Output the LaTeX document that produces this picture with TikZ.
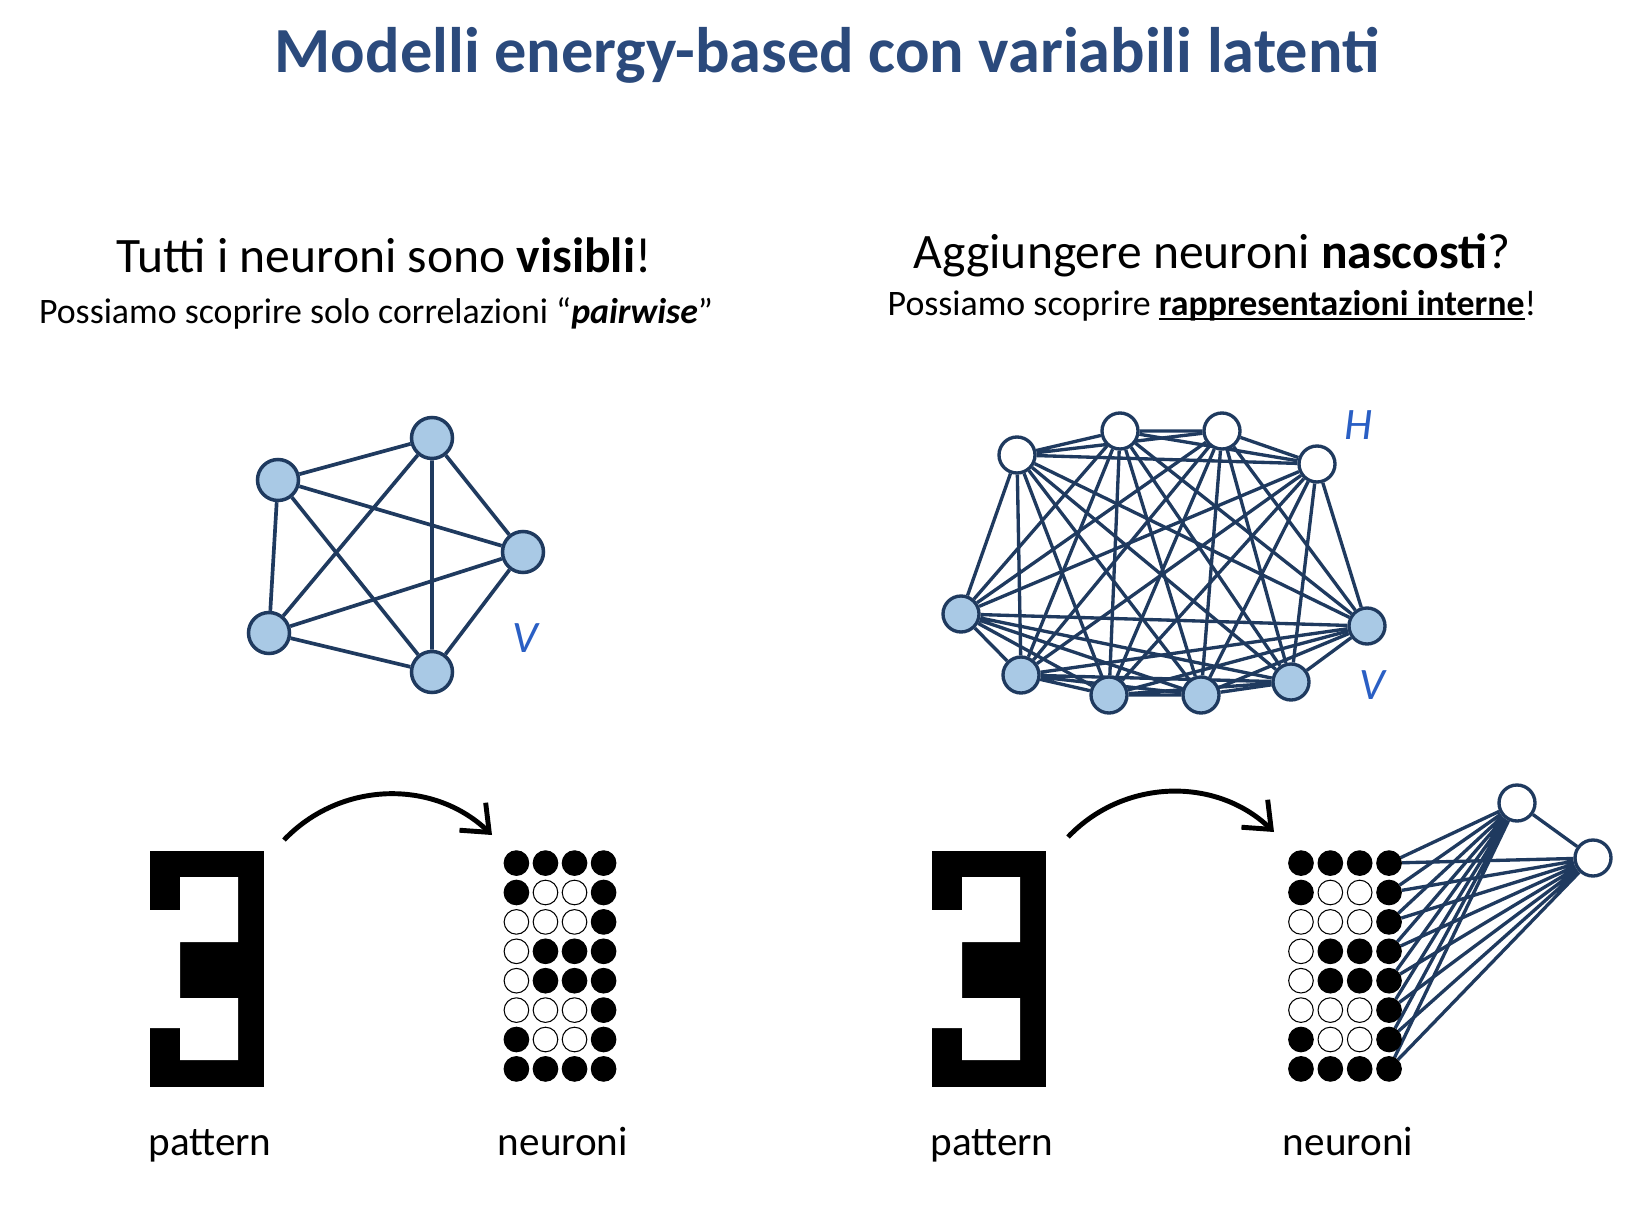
\documentclass[tikz,border=0pt]{standalone}
\usepackage{fontspec}
\setmainfont{Carlito}
\usetikzlibrary{matrix, arrows.meta, backgrounds}

\definecolor{titleblue}{HTML}{2B4A7C}
\definecolor{edgeblue}{HTML}{1F3A5F}
\definecolor{nodeblue}{HTML}{A9C9E5}
\definecolor{letterblue}{HTML}{2A5FC4}

% underline sitting close to the baseline
\newcommand{\baseul}[1]{\leavevmode\setbox0\hbox{#1}\rlap{\rule[-1.3pt]{\wd0}{0.75pt}}\box0}

\tikzset{
  vis/.style={circle, draw=edgeblue, fill=nodeblue, line width=1pt, inner sep=0pt, minimum size=4.1mm},
  vism/.style={vis, line width=0.95pt, minimum size=3.6mm},
  hidm/.style={vism, fill=white},
  dot/.style={circle, draw=black, fill=white, line width=0.3pt, inner sep=0pt, minimum size=2.46mm},
  on/.style={fill=black},
  edge/.style={draw=edgeblue, line width=1.05pt},
  edgem/.style={draw=edgeblue, line width=0.95pt},
  bigarrow/.style={draw=black, line width=1.4pt, -{Straight Barb[length=2.3mm, width=3.8mm]}},
  titletxt/.style={text=titleblue, font=\fontsize{18.3}{22}\selectfont\bfseries},
  headtxt/.style={font=\fontsize{14.1}{16}\selectfont},
  subtxt/.style={font=\fontsize{10.2}{12}\selectfont},
  labtxt/.style={anchor=base, font=\fontsize{11.7}{14}\selectfont},
  letter/.style={text=letterblue, font=\fontsize{12.8}{15}\selectfont\itshape}
}

\begin{document}
\begin{tikzpicture}[x=0.1mm, y=-0.1mm]
\useasboundingbox (0,0) rectangle (1644,1232);

% titles
\node[titletxt] (title) at (827,55) {Modelli energy-based con variabili latenti};
\node[headtxt] (headl) at (384,255) {Tutti i neuroni sono \textbf{visibli}!};
\node[subtxt] (subl) at (376,313) {Possiamo scoprire solo correlazioni “\textbf{\textit{pairwise}}”};
\node[headtxt] (headr) at (1212,255) {Aggiungere neuroni \textbf{nascosti}?};
\node[subtxt] (subr) at (1212,306) {Possiamo scoprire \baseul{\textbf{rappresentazioni interne}}!};

% only visible units
\node[vis] (a1) at (432,438) {};
\node[vis] (a2) at (278,480) {};
\node[vis] (a3) at (523,552) {};
\node[vis] (a4) at (269,633) {};
\node[vis] (a5) at (432,672) {};
\node[letter] (vleft) at (525,638) {V};
\begin{scope}[on background layer]
\draw[edge] (a1) -- (a2) (a1) -- (a3) (a1) -- (a4) (a1) -- (a5);
\draw[edge] (a2) -- (a3) (a2) -- (a4) (a2) -- (a5);
\draw[edge] (a3) -- (a4) (a3) -- (a5);
\draw[edge] (a4) -- (a5);
\end{scope}

% visible + hidden units
\node[hidm] (h1) at (1017,455) {};
\node[hidm] (h2) at (1120,431) {};
\node[hidm] (h3) at (1222,431) {};
\node[hidm] (h4) at (1317,464) {};
\node[vism] (v1) at (961,614) {};
\node[vism] (v2) at (1021,675) {};
\node[vism] (v3) at (1109,695) {};
\node[vism] (v4) at (1201,695) {};
\node[vism] (v5) at (1291,682) {};
\node[vism] (v6) at (1367,626) {};
\node[letter] (hright) at (1358,425) {H};
\node[letter] (vright) at (1372,685) {V};
\begin{scope}[on background layer]
\draw[edgem] (h1) -- (h2) (h1) -- (h3) (h1) -- (h4) (h1) -- (v1) (h1) -- (v2) (h1) -- (v3) (h1) -- (v4) (h1) -- (v5) (h1) -- (v6);
\draw[edgem] (h2) -- (h3) (h2) -- (h4) (h2) -- (v1) (h2) -- (v2) (h2) -- (v3) (h2) -- (v4) (h2) -- (v5) (h2) -- (v6);
\draw[edgem] (h3) -- (h4) (h3) -- (v1) (h3) -- (v2) (h3) -- (v3) (h3) -- (v4) (h3) -- (v5) (h3) -- (v6);
\draw[edgem] (h4) -- (v1) (h4) -- (v2) (h4) -- (v3) (h4) -- (v4) (h4) -- (v5) (h4) -- (v6);
\draw[edgem] (v1) -- (v2) (v1) -- (v3) (v1) -- (v4) (v1) -- (v5) (v1) -- (v6);
\draw[edgem] (v2) -- (v3) (v2) -- (v4) (v2) -- (v5) (v2) -- (v6);
\draw[edgem] (v3) -- (v4) (v3) -- (v5) (v3) -- (v6);
\draw[edgem] (v4) -- (v5) (v4) -- (v6);
\draw[edgem] (v5) -- (v6);
\end{scope}

% pattern "3", left and right
\fill (150,851) rectangle (264,1087);
\fill[white] (150,910) -- (180,910) -- (180,877) -- (238,877) -- (238,942) -- (180,942) -- (180,998)
  -- (238,998) -- (238,1060) -- (180,1060) -- (180,1028) -- (150,1028) -- cycle;
\begin{scope}[xshift=78.2mm]
\fill (150,851) rectangle (264,1087);
\fill[white] (150,910) -- (180,910) -- (180,877) -- (238,877) -- (238,942) -- (180,942) -- (180,998)
  -- (238,998) -- (238,1060) -- (180,1060) -- (180,1028) -- (150,1028) -- cycle;
\end{scope}

% neurons grids
\matrix (gl) at (560,966) [matrix of nodes, nodes in empty cells, nodes={dot}, column sep=0.34mm, row sep=0.375mm]{
|[on]| & |[on]| & |[on]| & |[on]| \\
|[on]| &        &        & |[on]| \\
       &        &        & |[on]| \\
       & |[on]| & |[on]| & |[on]| \\
       & |[on]| & |[on]| & |[on]| \\
       &        &        & |[on]| \\
|[on]| &        &        & |[on]| \\
|[on]| & |[on]| & |[on]| & |[on]| \\
};
\matrix (gr) at (1345,966) [matrix of nodes, nodes in empty cells, nodes={dot}, column sep=0.37mm, row sep=0.375mm]{
|[on]| & |[on]| & |[on]| & |[on]| \\
|[on]| &        &        & |[on]| \\
       &        &        & |[on]| \\
       & |[on]| & |[on]| & |[on]| \\
       & |[on]| & |[on]| & |[on]| \\
       &        &        & |[on]| \\
|[on]| &        &        & |[on]| \\
|[on]| & |[on]| & |[on]| & |[on]| \\
};

% hidden units on the grid
\node[hidm] (ha) at (1517,803) {};
\node[hidm] (hb) at (1593,858) {};
\begin{scope}[on background layer]
\draw[edgem] (ha) -- (hb);
\draw[edgem] (ha) -- (gr-1-4) (ha) -- (gr-2-4) (ha) -- (gr-3-4) (ha) -- (gr-4-4) (ha) -- (gr-5-4) (ha) -- (gr-6-4) (ha) -- (gr-7-4) (ha) -- (gr-8-4);
\draw[edgem] (hb) -- (gr-1-4) (hb) -- (gr-2-4) (hb) -- (gr-3-4) (hb) -- (gr-4-4) (hb) -- (gr-5-4) (hb) -- (gr-6-4) (hb) -- (gr-7-4) (hb) -- (gr-8-4);
\end{scope}

% arrows
\coordinate (al0) at (284,840);
\coordinate (al1) at (492,835);
\coordinate (ar0) at (1068,837);
\coordinate (ar1) at (1274,832);
\draw[bigarrow] (al0) to[bend left=45] (al1);
\draw[bigarrow] (ar0) to[bend left=45] (ar1);

% labels
\node[labtxt] (patl) at (210,1155) {pattern};
\node[labtxt] (neul) at (563,1155) {neuroni};
\node[labtxt] (patr) at (992,1155) {pattern};
\node[labtxt] (neur) at (1348,1155) {neuroni};
\end{tikzpicture}
\end{document}
